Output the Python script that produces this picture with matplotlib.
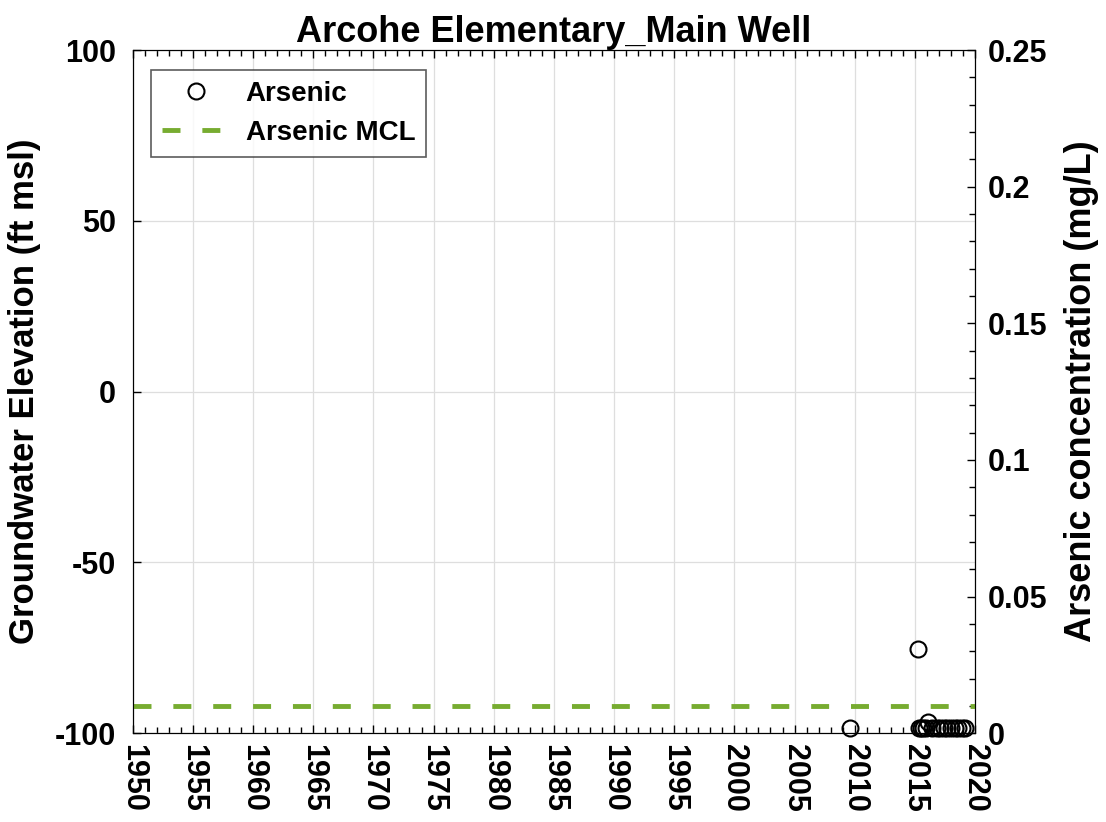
import numpy as np
import matplotlib
matplotlib.use('Agg')
import matplotlib.pyplot as plt
from matplotlib.ticker import MultipleLocator

plt.rcParams['font.family'] = ['Liberation Sans', 'DejaVu Sans']
plt.rcParams['font.weight'] = 'bold'

# arsenic samples (decimal year, mg/L)
as_years = [2009.6, 2015.25, 2015.35, 2015.5, 2015.7, 2015.9, 2016.1, 2016.4,
            2016.8, 2017.1, 2017.4, 2017.7, 2018.0, 2018.3, 2018.6, 2018.9, 2019.2]
as_conc = [0.002, 0.031, 0.002, 0.002, 0.002, 0.002, 0.004, 0.002,
           0.002, 0.002, 0.002, 0.002, 0.002, 0.002, 0.002, 0.002, 0.002]
mcl = 0.01

year_ticks = np.arange(1950, 2021, 5)
elev_ticks = [-100, -50, 0, 50, 100]
conc_ticks = [0, 0.05, 0.1, 0.15, 0.2, 0.25]
conc_labels = ['0', '0.05', '0.1', '0.15', '0.2', '0.25']

tick_fs = 22
label_fs = 25

fig = plt.figure(figsize=(11.06, 8.22), dpi=100)
ax = fig.add_axes([0.120, 0.108, 0.7616, 0.831])
ax.set_xlim(1950, 2020)
ax.set_ylim(-100, 100)
ax.set_xticks(year_ticks)
ax.set_xticklabels([str(y) for y in year_ticks], rotation=-90, fontsize=tick_fs, fontweight='bold')
ax.set_yticks(elev_ticks)
ax.set_yticklabels([str(v) for v in elev_ticks], fontsize=tick_fs, fontweight='bold')
ax.xaxis.set_minor_locator(MultipleLocator(1))
ax.tick_params(axis='x', which='both', direction='in', top=True, length=6, width=1, pad=8)
ax.tick_params(axis='x', which='minor', length=4)
ax.tick_params(axis='y', direction='in', length=6, width=1, right=False, pad=12)
ax.grid(True, color='#dedede', linewidth=0.9)
ax.set_ylabel('Groundwater Elevation (ft msl)', fontsize=label_fs, fontweight='bold', labelpad=10)
ax.set_title('Arcohe Elementary_Main Well', fontsize=26, fontweight='bold', pad=4)

ax2 = ax.twinx()
ax2.set_ylim(0, 0.25)
ax2.set_yticks(conc_ticks)
ax2.set_yticklabels(conc_labels, fontsize=tick_fs, fontweight='bold')
ax2.yaxis.set_minor_locator(MultipleLocator(0.01))
ax2.tick_params(axis='y', which='both', direction='in', length=6, width=1, pad=9)
ax2.tick_params(axis='y', which='minor', length=4)
ax2.set_ylabel('Arsenic concentration (mg/L)', fontsize=26, fontweight='bold', labelpad=12)

h1, = ax2.plot(as_years, as_conc, 'o', mfc='none', mec='black', ms=11.5, mew=1.5,
               label='Arsenic', clip_on=False)
h2 = ax2.axhline(mcl, color='#77AC30', linestyle=(0, (3.7, 4.5)), linewidth=3.5,
                 label='Arsenic MCL')

leg = ax2.legend(handles=[h1, h2], loc='upper left', bbox_to_anchor=(0.022, 0.971),
                 fontsize=20, frameon=True, fancybox=False, edgecolor='#333333',
                 handlelength=2.4, handletextpad=0.6, borderpad=0.4, labelspacing=0.45,
                 borderaxespad=0)
leg.get_frame().set_linewidth(1.2)
for t in leg.get_texts():
    t.set_fontweight('bold')

fig.savefig('out.png', dpi=100)
